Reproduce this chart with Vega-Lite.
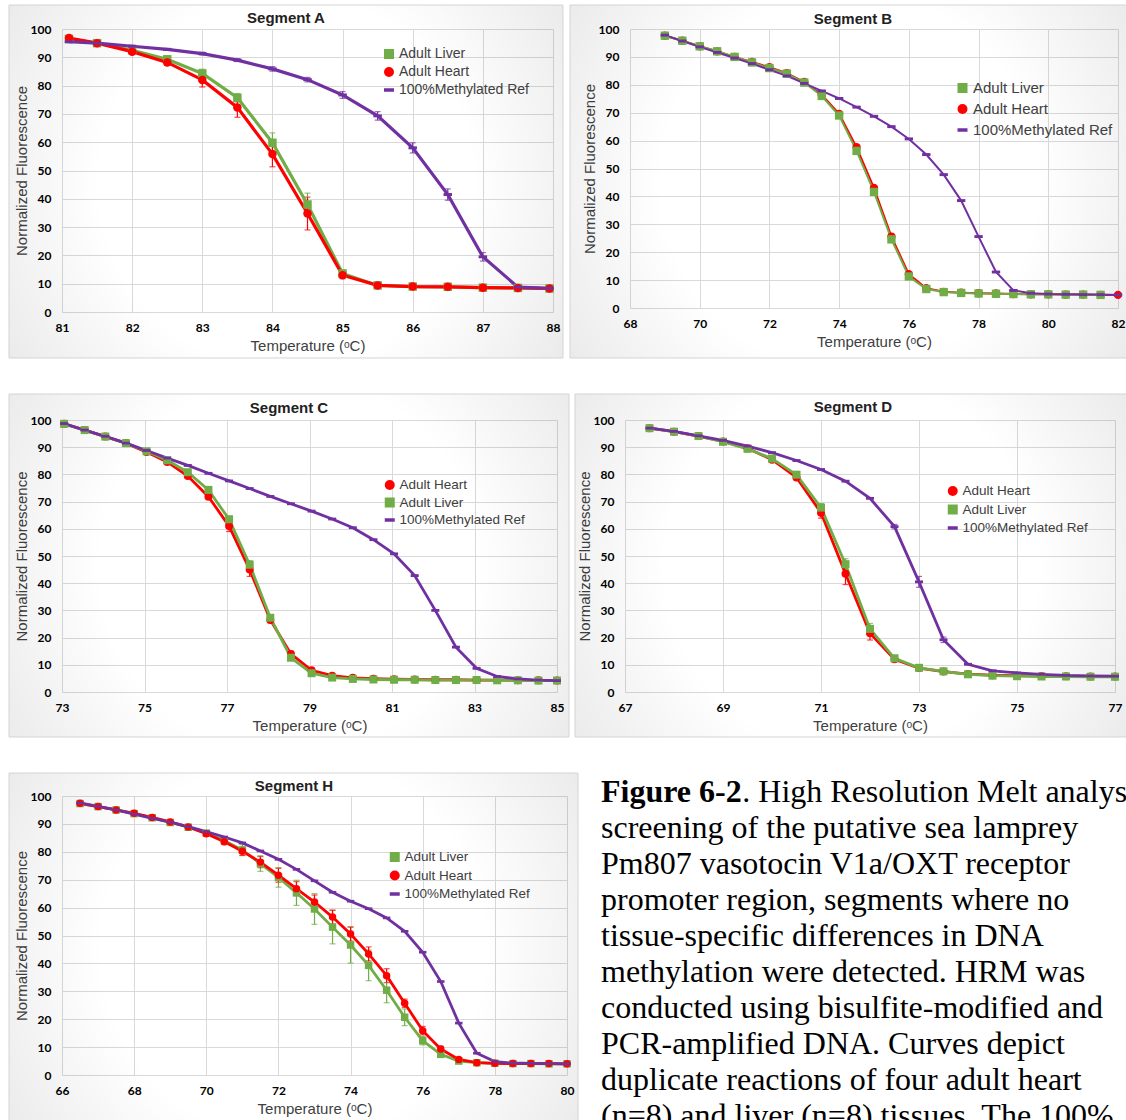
{
"$schema": "https://vega.github.io/schema/vega-lite/v6.json",
"background": "white",
"padding": {"left": 8, "top": 4, "right": 0, "bottom": 0},
"spacing": 34,
"resolve": {"scale": {"color": "independent", "shape": "independent"}, "legend": {"color": "independent", "shape": "independent"}},
"config": {
  "view": {"stroke": null},
  "axis": {"domain": false, "ticks": false, "grid": true, "gridColor": "#d9d9d9", "gridWidth": 1, "labelFont": "Lato", "labelFontSize": 12, "labelFontWeight": "bold", "labelColor": "#000000", "labelFlush": false, "labelOverlap": false, "titleFont": "Liberation Sans", "titleFontSize": 15, "titleFontWeight": "normal", "titleColor": "#404040"},
  "axisX": {"labelPadding": 10, "titlePadding": 5},
  "axisY": {"labelPadding": 11, "titlePadding": 1},
  "legend": {"labelFont": "Liberation Sans", "labelColor": "#404040", "labelOffset": 3, "padding": 0, "symbolStrokeWidth": 0, "symbolOpacity": 1, "title": null},
  "title": {"font": "Liberation Sans", "fontSize": 15, "fontWeight": "bold", "color": "#222222", "anchor": "middle"}
},
"datasets": {
  "A": [
    {"g":"L","t":81.1,"v":96.5,"e":0.5},{"g":"L","t":81.5,"v":95.0,"e":0.5},{"g":"L","t":82,"v":92.5,"e":0.7},{"g":"L","t":82.5,"v":89.3,"e":1},{"g":"L","t":83,"v":84.3,"e":1.5},{"g":"L","t":83.5,"v":75.7,"e":1.5},{"g":"L","t":84,"v":59.8,"e":3.5},{"g":"L","t":84.5,"v":38.0,"e":4},{"g":"L","t":85,"v":13.6,"e":1.2},{"g":"L","t":85.5,"v":9.4,"e":0.5},{"g":"L","t":86,"v":9.0,"e":0.4},{"g":"L","t":86.5,"v":8.9,"e":0.4},{"g":"L","t":87,"v":8.6,"e":0.3},{"g":"L","t":87.5,"v":8.5,"e":0.3},{"g":"L","t":87.95,"v":8.3,"e":0.3},
    {"g":"H","t":81.1,"v":96.8,"e":0.5},{"g":"H","t":81.5,"v":95.0,"e":0.5},{"g":"H","t":82,"v":92.0,"e":0.8},{"g":"H","t":82.5,"v":88.2,"e":1},{"g":"H","t":83,"v":82.0,"e":2.5},{"g":"H","t":83.5,"v":72.3,"e":3.5},{"g":"H","t":84,"v":55.8,"e":4.5},{"g":"H","t":84.5,"v":34.8,"e":5.8},{"g":"H","t":85,"v":13.0,"e":1.2},{"g":"H","t":85.5,"v":9.4,"e":0.7},{"g":"H","t":86,"v":9.0,"e":0.5},{"g":"H","t":86.5,"v":8.9,"e":0.5},{"g":"H","t":87,"v":8.6,"e":0.3},{"g":"H","t":87.5,"v":8.5,"e":0.3},{"g":"H","t":87.95,"v":8.3,"e":0.3},
    {"g":"R","t":81.1,"v":95.5,"e":0.3},{"g":"R","t":81.5,"v":95.0,"e":0.3},{"g":"R","t":82,"v":93.9,"e":0.3},{"g":"R","t":82.5,"v":92.8,"e":0.3},{"g":"R","t":83,"v":91.3,"e":0.5},{"g":"R","t":83.5,"v":89.0,"e":0.5},{"g":"R","t":84,"v":85.9,"e":0.8},{"g":"R","t":84.5,"v":82.1,"e":0.8},{"g":"R","t":85,"v":76.7,"e":1.2},{"g":"R","t":85.5,"v":69.3,"e":1.5},{"g":"R","t":86,"v":58.0,"e":1.8},{"g":"R","t":86.5,"v":41.5,"e":2},{"g":"R","t":87,"v":19.5,"e":1.5},{"g":"R","t":87.5,"v":8.8,"e":0.3},{"g":"R","t":87.95,"v":8.4,"e":0.3}
  ],
  "B": [
    {"g":"H","t":69,"v":97.6},{"g":"H","t":69.5,"v":95.8},{"g":"H","t":70,"v":93.8},{"g":"H","t":70.5,"v":92.0},{"g":"H","t":71,"v":90.0},{"g":"H","t":71.5,"v":88.2},{"g":"H","t":72,"v":86.3},{"g":"H","t":72.5,"v":84.2},{"g":"H","t":73,"v":81.0},{"g":"H","t":73.5,"v":76.4},{"g":"H","t":74,"v":69.6},{"g":"H","t":74.5,"v":57.6},{"g":"H","t":75,"v":43.0},{"g":"H","t":75.5,"v":25.6},{"g":"H","t":76,"v":12.1},{"g":"H","t":76.5,"v":7.1},{"g":"H","t":77,"v":5.8},{"g":"H","t":77.5,"v":5.5},{"g":"H","t":78,"v":5.3},{"g":"H","t":78.5,"v":5.2},{"g":"H","t":79,"v":5.0},{"g":"H","t":79.5,"v":4.9},{"g":"H","t":80,"v":4.9},{"g":"H","t":80.5,"v":4.8},{"g":"H","t":81,"v":4.8},{"g":"H","t":81.5,"v":4.7},
    {"g":"L","t":69,"v":97.6},{"g":"L","t":69.5,"v":95.8},{"g":"L","t":70,"v":93.8},{"g":"L","t":70.5,"v":92.0},{"g":"L","t":71,"v":90.0},{"g":"L","t":71.5,"v":88.0},{"g":"L","t":72,"v":86.0},{"g":"L","t":72.5,"v":84.0},{"g":"L","t":73,"v":80.8},{"g":"L","t":73.5,"v":76.0},{"g":"L","t":74,"v":69.0},{"g":"L","t":74.5,"v":56.3},{"g":"L","t":75,"v":41.6},{"g":"L","t":75.5,"v":24.6},{"g":"L","t":76,"v":11.3},{"g":"L","t":76.5,"v":6.8},{"g":"L","t":77,"v":5.7},{"g":"L","t":77.5,"v":5.4},{"g":"L","t":78,"v":5.2},{"g":"L","t":78.5,"v":5.1},{"g":"L","t":79,"v":5.0},{"g":"L","t":79.5,"v":4.9},{"g":"L","t":80,"v":4.9},{"g":"L","t":80.5,"v":4.8},{"g":"L","t":81,"v":4.8},{"g":"L","t":81.5,"v":4.7},
    {"g":"H","t":82,"v":4.7},
    {"g":"R","t":69,"v":97.8},{"g":"R","t":69.5,"v":95.7},{"g":"R","t":70,"v":93.6},{"g":"R","t":70.5,"v":91.6},{"g":"R","t":71,"v":89.6},{"g":"R","t":71.5,"v":87.6},{"g":"R","t":72,"v":85.4},{"g":"R","t":72.5,"v":83.2},{"g":"R","t":73,"v":80.5},{"g":"R","t":73.5,"v":77.8},{"g":"R","t":74,"v":75.1},{"g":"R","t":74.5,"v":72.0},{"g":"R","t":75,"v":68.7},{"g":"R","t":75.5,"v":65.0},{"g":"R","t":76,"v":60.6},{"g":"R","t":76.5,"v":55.0},{"g":"R","t":77,"v":47.8},{"g":"R","t":77.5,"v":38.5},{"g":"R","t":78,"v":25.6},{"g":"R","t":78.5,"v":12.9},{"g":"R","t":79,"v":6.3},{"g":"R","t":79.5,"v":5.3},{"g":"R","t":80,"v":5.0},{"g":"R","t":80.5,"v":4.9},{"g":"R","t":81,"v":4.8},{"g":"R","t":81.5,"v":4.8},{"g":"R","t":82,"v":4.7}
  ],
  "C": [
    {"g":"H","t":73.05,"v":98.6},{"g":"H","t":73.55,"v":96.3},{"g":"H","t":74.05,"v":93.9},{"g":"H","t":74.55,"v":91.5},{"g":"H","t":75.05,"v":88.2},{"g":"H","t":75.55,"v":84.6},{"g":"H","t":76.05,"v":79.4},{"g":"H","t":76.55,"v":71.8},{"g":"H","t":77.05,"v":61.0,"e":2.0},{"g":"H","t":77.55,"v":45.0,"e":2.5},{"g":"H","t":78.05,"v":26.5,"e":1.0},{"g":"H","t":78.55,"v":14.0,"e":1.0},{"g":"H","t":79.05,"v":8.0},{"g":"H","t":79.55,"v":6.0},{"g":"H","t":80.05,"v":5.2},{"g":"H","t":80.55,"v":4.9},{"g":"H","t":81.05,"v":4.7},{"g":"H","t":81.55,"v":4.6},{"g":"H","t":82.05,"v":4.5},{"g":"H","t":82.55,"v":4.5},{"g":"H","t":83.05,"v":4.4},{"g":"H","t":83.55,"v":4.4},{"g":"H","t":84.05,"v":4.3},{"g":"H","t":84.55,"v":4.3},{"g":"H","t":85,"v":4.2},
    {"g":"L","t":73.05,"v":98.6},{"g":"L","t":73.55,"v":96.3},{"g":"L","t":74.05,"v":93.9},{"g":"L","t":74.55,"v":91.5},{"g":"L","t":75.05,"v":88.5},{"g":"L","t":75.55,"v":85.2},{"g":"L","t":76.05,"v":80.8},{"g":"L","t":76.55,"v":74.3,"e":1.0},{"g":"L","t":77.05,"v":63.5,"e":1.2},{"g":"L","t":77.55,"v":46.8,"e":1.5},{"g":"L","t":78.05,"v":27.3},{"g":"L","t":78.55,"v":12.6},{"g":"L","t":79.05,"v":6.9},{"g":"L","t":79.55,"v":5.3},{"g":"L","t":80.05,"v":4.8},{"g":"L","t":80.55,"v":4.6},{"g":"L","t":81.05,"v":4.5},{"g":"L","t":81.55,"v":4.5},{"g":"L","t":82.05,"v":4.4},{"g":"L","t":82.55,"v":4.4},{"g":"L","t":83.05,"v":4.4},{"g":"L","t":83.55,"v":4.3},{"g":"L","t":84.05,"v":4.3},{"g":"L","t":84.55,"v":4.2},{"g":"L","t":85,"v":4.2},
    {"g":"R","t":73.05,"v":98.7},{"g":"R","t":73.55,"v":96.3},{"g":"R","t":74.05,"v":94.0},{"g":"R","t":74.55,"v":91.5},{"g":"R","t":75.05,"v":88.8},{"g":"R","t":75.55,"v":86.0},{"g":"R","t":76.05,"v":83.3},{"g":"R","t":76.55,"v":80.4},{"g":"R","t":77.05,"v":77.6},{"g":"R","t":77.55,"v":74.8},{"g":"R","t":78.05,"v":71.9},{"g":"R","t":78.55,"v":69.2},{"g":"R","t":79.05,"v":66.5},{"g":"R","t":79.55,"v":63.6},{"g":"R","t":80.05,"v":60.4},{"g":"R","t":80.55,"v":56.0},{"g":"R","t":81.05,"v":50.8},{"g":"R","t":81.55,"v":42.8},{"g":"R","t":82.05,"v":30.0},{"g":"R","t":82.55,"v":16.5},{"g":"R","t":83.05,"v":8.7},{"g":"R","t":83.55,"v":5.7},{"g":"R","t":84.05,"v":4.8},{"g":"R","t":84.55,"v":4.4},{"g":"R","t":85,"v":4.2}
  ],
  "D": [
    {"g":"H","t":67.5,"v":97.0},{"g":"H","t":68,"v":95.7},{"g":"H","t":68.5,"v":94.1},{"g":"H","t":69,"v":92.1},{"g":"H","t":69.5,"v":89.6},{"g":"H","t":70,"v":85.4},{"g":"H","t":70.5,"v":78.9,"e":0.8},{"g":"H","t":71,"v":65.9,"e":2.0},{"g":"H","t":71.5,"v":43.5,"e":4.0},{"g":"H","t":72,"v":21.6,"e":2.5},{"g":"H","t":72.5,"v":12.0,"e":0.8},{"g":"H","t":73,"v":8.8},{"g":"H","t":73.5,"v":7.5},{"g":"H","t":74,"v":6.6},{"g":"H","t":74.5,"v":6.2},{"g":"H","t":75,"v":6.0},{"g":"H","t":75.5,"v":5.9},{"g":"H","t":76,"v":5.8},{"g":"H","t":76.5,"v":5.7},{"g":"H","t":77,"v":5.7},
    {"g":"L","t":67.5,"v":97.0},{"g":"L","t":68,"v":95.7},{"g":"L","t":68.5,"v":94.1},{"g":"L","t":69,"v":92.0},{"g":"L","t":69.5,"v":89.4},{"g":"L","t":70,"v":85.8},{"g":"L","t":70.5,"v":79.9,"e":0.8},{"g":"L","t":71,"v":67.8,"e":1.5},{"g":"L","t":71.5,"v":47.0,"e":2.0},{"g":"L","t":72,"v":23.2,"e":2.0},{"g":"L","t":72.5,"v":12.4,"e":0.8},{"g":"L","t":73,"v":8.9},{"g":"L","t":73.5,"v":7.6},{"g":"L","t":74,"v":6.5},{"g":"L","t":74.5,"v":6.0},{"g":"L","t":75,"v":5.8},{"g":"L","t":75.5,"v":5.7},{"g":"L","t":76,"v":5.7},{"g":"L","t":76.5,"v":5.6},{"g":"L","t":77,"v":5.6},
    {"g":"R","t":67.5,"v":97.0},{"g":"R","t":68,"v":95.8},{"g":"R","t":68.5,"v":94.2},{"g":"R","t":69,"v":92.5},{"g":"R","t":69.5,"v":90.4},{"g":"R","t":70,"v":88.0},{"g":"R","t":70.5,"v":85.1},{"g":"R","t":71,"v":81.8},{"g":"R","t":71.5,"v":77.5},{"g":"R","t":72,"v":71.2},{"g":"R","t":72.5,"v":60.8,"e":0.8},{"g":"R","t":73,"v":40.5,"e":2.0},{"g":"R","t":73.5,"v":19.2,"e":1.0},{"g":"R","t":74,"v":10.2},{"g":"R","t":74.5,"v":7.8},{"g":"R","t":75,"v":7.0},{"g":"R","t":75.5,"v":6.5},{"g":"R","t":76,"v":6.1},{"g":"R","t":76.5,"v":5.9},{"g":"R","t":77,"v":5.8}
  ],
  "Hs": [
    {"g":"L","t":66.5,"v":97.3,"e":0.3},{"g":"L","t":67,"v":96.2,"e":0.3},{"g":"L","t":67.5,"v":95.0,"e":0.3},{"g":"L","t":68,"v":93.7,"e":0.3},{"g":"L","t":68.5,"v":92.2,"e":0.3},{"g":"L","t":69,"v":90.5,"e":0.3},{"g":"L","t":69.5,"v":88.8,"e":0.5},{"g":"L","t":70,"v":86.7,"e":0.5},{"g":"L","t":70.5,"v":84.0,"e":1.0},{"g":"L","t":71,"v":80.6,"e":2.0},{"g":"L","t":71.5,"v":75.8,"e":2.8},{"g":"L","t":72,"v":70.8,"e":3.5},{"g":"L","t":72.5,"v":65.3,"e":4.5},{"g":"L","t":73,"v":59.5,"e":5.5},{"g":"L","t":73.5,"v":53.0,"e":6.0},{"g":"L","t":74,"v":46.6,"e":6.5},{"g":"L","t":74.5,"v":39.3,"e":5.5},{"g":"L","t":75,"v":30.4,"e":4.5},{"g":"L","t":75.5,"v":20.7,"e":3.0},{"g":"L","t":76,"v":12.3,"e":1.5},{"g":"L","t":76.5,"v":7.4,"e":1.0},{"g":"L","t":77,"v":5.0,"e":0.5},{"g":"L","t":77.5,"v":4.4},{"g":"L","t":78,"v":4.2},{"g":"L","t":78.5,"v":4.1},{"g":"L","t":79,"v":4.1},{"g":"L","t":79.5,"v":4.0},{"g":"L","t":80,"v":4.0},
    {"g":"H","t":66.5,"v":97.4,"e":0.3},{"g":"H","t":67,"v":96.2,"e":0.3},{"g":"H","t":67.5,"v":95.0,"e":0.3},{"g":"H","t":68,"v":93.8,"e":0.3},{"g":"H","t":68.5,"v":92.3,"e":0.3},{"g":"H","t":69,"v":90.7,"e":0.3},{"g":"H","t":69.5,"v":88.9,"e":0.5},{"g":"H","t":70,"v":86.5,"e":0.5},{"g":"H","t":70.5,"v":83.6,"e":1.0},{"g":"H","t":71,"v":80.2,"e":1.5},{"g":"H","t":71.5,"v":76.3,"e":2.0},{"g":"H","t":72,"v":71.6,"e":2.5},{"g":"H","t":72.5,"v":66.8,"e":2.5},{"g":"H","t":73,"v":62.0,"e":2.5},{"g":"H","t":73.5,"v":56.6,"e":2.5},{"g":"H","t":74,"v":50.5,"e":2.5},{"g":"H","t":74.5,"v":43.4,"e":2.5},{"g":"H","t":75,"v":35.6,"e":2.5},{"g":"H","t":75.5,"v":25.7,"e":1.5},{"g":"H","t":76,"v":15.9,"e":1.5},{"g":"H","t":76.5,"v":9.3,"e":1.0},{"g":"H","t":77,"v":5.6,"e":0.5},{"g":"H","t":77.5,"v":4.4},{"g":"H","t":78,"v":4.2},{"g":"H","t":78.5,"v":4.1},{"g":"H","t":79,"v":4.1},{"g":"H","t":79.5,"v":4.1},{"g":"H","t":80,"v":4.0},
    {"g":"R","t":66.5,"v":97.5},{"g":"R","t":67,"v":96.3},{"g":"R","t":67.5,"v":95.0},{"g":"R","t":68,"v":93.5},{"g":"R","t":68.5,"v":92.0},{"g":"R","t":69,"v":90.6},{"g":"R","t":69.5,"v":89.0},{"g":"R","t":70,"v":87.2},{"g":"R","t":70.5,"v":85.3},{"g":"R","t":71,"v":83.2},{"g":"R","t":71.5,"v":80.3},{"g":"R","t":72,"v":77.3},{"g":"R","t":72.5,"v":73.7},{"g":"R","t":73,"v":69.6},{"g":"R","t":73.5,"v":65.5},{"g":"R","t":74,"v":62.3},{"g":"R","t":74.5,"v":59.6},{"g":"R","t":75,"v":56.3},{"g":"R","t":75.5,"v":51.5},{"g":"R","t":76,"v":44.0},{"g":"R","t":76.5,"v":33.5},{"g":"R","t":77,"v":18.6},{"g":"R","t":77.5,"v":7.8},{"g":"R","t":78,"v":4.8},{"g":"R","t":78.5,"v":4.3},{"g":"R","t":79,"v":4.2},{"g":"R","t":79.5,"v":4.1},{"g":"R","t":80,"v":4.0}
  ],
  "cap": [
    {"i":0,"a":"Figure 6-2","b":". High Resolution Melt analysis"},
    {"i":1,"b":"screening of the putative sea lamprey"},
    {"i":2,"b":"Pm807 vasotocin V1a/OXT receptor"},
    {"i":3,"b":"promoter region, segments where no"},
    {"i":4,"b":"tissue-specific differences in DNA"},
    {"i":5,"b":"methylation were detected. HRM was"},
    {"i":6,"b":"conducted using bisulfite-modified and"},
    {"i":7,"b":"PCR-amplified DNA. Curves depict"},
    {"i":8,"b":"duplicate reactions of four adult heart"},
    {"i":9,"b":"(n=8) and liver (n=8) tissues. The 100%"}
  ]
},
"vconcat": [
  {"hconcat": [
    {"width": 491, "height": 283, "data": {"name": "A"},
     "title": {"text": "Segment A", "dx": -21.5, "offset": -21},
     "layer": [
       {"data": {"values": [{}]},
        "mark": {"type": "rect", "stroke": "#d4d4d4", "strokeWidth": 1, "fill": {"gradient": "radial", "x1": 0.5, "y1": 0.5, "r1": 0, "x2": 0.5, "y2": 0.5, "r2": 0.75, "stops": [{"offset": 0, "color": "rgba(0,0,0,0)"}, {"offset": 0.45, "color": "rgba(0,0,0,0)"}, {"offset": 1, "color": "rgba(0,0,0,0.13)"}]}},
        "encoding": {
          "x": {"datum": 80.244, "type": "quantitative", "scale": {"domain": [81, 88], "nice": false, "zero": false}, "axis": {"values": [81,82,83,84,85,86,87,88], "format": "d", "title": "Temperature (ᵒC)"}},
          "x2": {"datum": 88.143},
          "y": {"datum": -16.25, "type": "quantitative", "scale": {"domain": [0, 100], "nice": false}, "axis": {"values": [0,10,20,30,40,50,60,70,80,90,100], "format": "d", "title": "Normalized Fluorescence"}},
          "y2": {"datum": 108.48}}},
       {"transform": [{"filter": "datum.e > 0"}], "mark": {"type": "errorbar", "ticks": {"size": 6}, "thickness": 1.2},
        "encoding": {"x": {"field": "t", "type": "quantitative", "axis": {"values": [81,82,83,84,85,86,87,88], "format": "d", "title": "Temperature (ᵒC)"}}, "y": {"field": "v", "type": "quantitative", "axis": {"values": [0,10,20,30,40,50,60,70,80,90,100], "format": "d", "title": "Normalized Fluorescence"}}, "yError": {"field": "e"}, "color": {"field": "g", "type": "nominal"}}},
       {"mark": {"type": "line", "strokeWidth": 3.2},
        "encoding": {"x": {"field": "t", "type": "quantitative", "axis": {"values": [81,82,83,84,85,86,87,88], "format": "d", "title": "Temperature (ᵒC)"}}, "y": {"field": "v", "type": "quantitative", "axis": {"values": [0,10,20,30,40,50,60,70,80,90,100], "format": "d", "title": "Normalized Fluorescence"}}, "color": {"field": "g", "type": "nominal"}}},
       {"mark": {"type": "point", "filled": true, "opacity": 1, "size": 72},
        "encoding": {"x": {"field": "t", "type": "quantitative", "axis": {"values": [81,82,83,84,85,86,87,88], "format": "d", "title": "Temperature (ᵒC)"}}, "y": {"field": "v", "type": "quantitative", "axis": {"values": [0,10,20,30,40,50,60,70,80,90,100], "format": "d", "title": "Normalized Fluorescence"}},
          "color": {"field": "g", "type": "nominal", "scale": {"domain": ["L","H","R"], "range": ["#70AD47","#FF0000","#7030A0"]},
            "legend": {"orient": "none", "legendX": 320, "legendY": 18, "labelFontSize": 14, "rowPadding": 4, "labelExpr": "datum.label == 'L' ? 'Adult Liver' : datum.label == 'H' ? 'Adult Heart' : '100%Methylated Ref'"}},
          "shape": {"field": "g", "type": "nominal", "scale": {"domain": ["L","H","R"], "range": ["square","circle","M-1,-0.35H1V0.35H-1Z"]}}}}
     ]},
    {"width": 488, "height": 279, "data": {"name": "B"},
     "title": {"text": "Segment B", "dx": -21, "offset": -22},
     "layer": [
       {"data": {"values": [{}]},
        "mark": {"type": "rect", "stroke": "#d4d4d4", "strokeWidth": 1, "fill": {"gradient": "radial", "x1": 0.5, "y1": 0.5, "r1": 0, "x2": 0.5, "y2": 0.5, "r2": 0.75, "stops": [{"offset": 0, "color": "rgba(0,0,0,0)"}, {"offset": 0.45, "color": "rgba(0,0,0,0)"}, {"offset": 1, "color": "rgba(0,0,0,0.13)"}]}},
        "encoding": {
          "x": {"datum": 66.279, "type": "quantitative", "scale": {"domain": [68, 82], "nice": false, "zero": false}, "axis": {"values": [68,70,72,74,76,78,80,82], "format": "d", "title": "Temperature (ᵒC)"}},
          "x2": {"datum": 82.3},
          "y": {"datum": -17.92, "type": "quantitative", "scale": {"domain": [0, 100], "nice": false}, "axis": {"values": [0,10,20,30,40,50,60,70,80,90,100], "format": "d", "title": "Normalized Fluorescence"}},
          "y2": {"datum": 108.6}}},
       {"mark": {"type": "line", "strokeWidth": 2},
        "encoding": {"x": {"field": "t", "type": "quantitative", "axis": {"values": [68,70,72,74,76,78,80,82], "format": "d", "title": "Temperature (ᵒC)"}}, "y": {"field": "v", "type": "quantitative", "axis": {"values": [0,10,20,30,40,50,60,70,80,90,100], "format": "d", "title": "Normalized Fluorescence"}}, "color": {"field": "g", "type": "nominal"}}},
       {"mark": {"type": "point", "filled": true, "opacity": 1, "size": 70},
        "encoding": {"x": {"field": "t", "type": "quantitative", "axis": {"values": [68,70,72,74,76,78,80,82], "format": "d", "title": "Temperature (ᵒC)"}}, "y": {"field": "v", "type": "quantitative", "axis": {"values": [0,10,20,30,40,50,60,70,80,90,100], "format": "d", "title": "Normalized Fluorescence"}},
          "color": {"field": "g", "type": "nominal", "scale": {"domain": ["L","H","R"], "range": ["#70AD47","#FF0000","#7030A0"]},
            "legend": {"orient": "none", "legendX": 325, "legendY": 51.5, "labelFontSize": 15, "rowPadding": 5, "labelExpr": "datum.label == 'L' ? 'Adult Liver' : datum.label == 'H' ? 'Adult Heart' : '100%Methylated Ref'"}},
          "shape": {"field": "g", "type": "nominal", "scale": {"domain": ["L","H","R"], "range": ["square","circle","M-1,-0.35H1V0.35H-1Z"]}}}}
     ]}
  ], "spacing": 5,
  "resolve": {"scale": {"color": "independent", "shape": "independent"}, "legend": {"color": "independent", "shape": "independent"}}},
  {"hconcat": [
    {"width": 495, "height": 272, "data": {"name": "C"},
     "title": {"text": "Segment C", "dx": -20.5, "offset": -23},
     "layer": [
       {"data": {"values": [{}]},
        "mark": {"type": "rect", "stroke": "#d4d4d4", "strokeWidth": 1, "fill": {"gradient": "radial", "x1": 0.5, "y1": 0.5, "r1": 0, "x2": 0.5, "y2": 0.5, "r2": 0.75, "stops": [{"offset": 0, "color": "rgba(0,0,0,0)"}, {"offset": 0.45, "color": "rgba(0,0,0,0)"}, {"offset": 1, "color": "rgba(0,0,0,0.13)"}]}},
        "encoding": {
          "x": {"datum": 71.715, "type": "quantitative", "scale": {"domain": [73, 85], "nice": false, "zero": false}, "axis": {"values": [73,75,77,79,81,83,85], "format": "d", "title": "Temperature (ᵒC)"}},
          "x2": {"datum": 85.291},
          "y": {"datum": -16.54, "type": "quantitative", "scale": {"domain": [0, 100], "nice": false}, "axis": {"values": [0,10,20,30,40,50,60,70,80,90,100], "format": "d", "title": "Normalized Fluorescence"}},
          "y2": {"datum": 109.56}}},
       {"transform": [{"filter": "datum.e > 0"}], "mark": {"type": "errorbar", "ticks": {"size": 6}, "thickness": 1.2},
        "encoding": {"x": {"field": "t", "type": "quantitative", "axis": {"values": [73,75,77,79,81,83,85], "format": "d", "title": "Temperature (ᵒC)"}}, "y": {"field": "v", "type": "quantitative", "axis": {"values": [0,10,20,30,40,50,60,70,80,90,100], "format": "d", "title": "Normalized Fluorescence"}}, "yError": {"field": "e"}, "color": {"field": "g", "type": "nominal"}}},
       {"mark": {"type": "line", "strokeWidth": 2.8},
        "encoding": {"x": {"field": "t", "type": "quantitative", "axis": {"values": [73,75,77,79,81,83,85], "format": "d", "title": "Temperature (ᵒC)"}}, "y": {"field": "v", "type": "quantitative", "axis": {"values": [0,10,20,30,40,50,60,70,80,90,100], "format": "d", "title": "Normalized Fluorescence"}}, "color": {"field": "g", "type": "nominal"}}},
       {"mark": {"type": "point", "filled": true, "opacity": 1, "size": 64},
        "encoding": {"x": {"field": "t", "type": "quantitative", "axis": {"values": [73,75,77,79,81,83,85], "format": "d", "title": "Temperature (ᵒC)"}}, "y": {"field": "v", "type": "quantitative", "axis": {"values": [0,10,20,30,40,50,60,70,80,90,100], "format": "d", "title": "Normalized Fluorescence"}},
          "color": {"field": "g", "type": "nominal", "scale": {"domain": ["H","L","R"], "range": ["#FF0000","#70AD47","#7030A0"]},
            "legend": {"orient": "none", "legendX": 321, "legendY": 58.25, "labelFontSize": 13.5, "rowPadding": 2.5, "labelExpr": "datum.label == 'L' ? 'Adult Liver' : datum.label == 'H' ? 'Adult Heart' : '100%Methylated Ref'"}},
          "shape": {"field": "g", "type": "nominal", "scale": {"domain": ["H","L","R"], "range": ["circle","square","M-1,-0.35H1V0.35H-1Z"]}}}}
     ]},
    {"width": 490, "height": 272, "data": {"name": "D"},
     "title": {"text": "Segment D", "dx": -17, "offset": -22},
     "layer": [
       {"data": {"values": [{}]},
        "mark": {"type": "rect", "stroke": "#d4d4d4", "strokeWidth": 1, "fill": {"gradient": "radial", "x1": 0.5, "y1": 0.5, "r1": 0, "x2": 0.5, "y2": 0.5, "r2": 0.75, "stops": [{"offset": 0, "color": "rgba(0,0,0,0)"}, {"offset": 0.45, "color": "rgba(0,0,0,0)"}, {"offset": 1, "color": "rgba(0,0,0,0.13)"}]}},
        "encoding": {
          "x": {"datum": 65.98, "type": "quantitative", "scale": {"domain": [67, 77], "nice": false, "zero": false}, "axis": {"values": [67,69,71,73,75,77], "format": "d", "title": "Temperature (ᵒC)"}},
          "x2": {"datum": 77.25},
          "y": {"datum": -16.54, "type": "quantitative", "scale": {"domain": [0, 100], "nice": false}, "axis": {"values": [0,10,20,30,40,50,60,70,80,90,100], "format": "d", "title": "Normalized Fluorescence"}},
          "y2": {"datum": 109.56}}},
       {"transform": [{"filter": "datum.e > 0"}], "mark": {"type": "errorbar", "ticks": {"size": 6}, "thickness": 1.2},
        "encoding": {"x": {"field": "t", "type": "quantitative", "axis": {"values": [67,69,71,73,75,77], "format": "d", "title": "Temperature (ᵒC)"}}, "y": {"field": "v", "type": "quantitative", "axis": {"values": [0,10,20,30,40,50,60,70,80,90,100], "format": "d", "title": "Normalized Fluorescence"}}, "yError": {"field": "e"}, "color": {"field": "g", "type": "nominal"}}},
       {"mark": {"type": "line", "strokeWidth": 2.8},
        "encoding": {"x": {"field": "t", "type": "quantitative", "axis": {"values": [67,69,71,73,75,77], "format": "d", "title": "Temperature (ᵒC)"}}, "y": {"field": "v", "type": "quantitative", "axis": {"values": [0,10,20,30,40,50,60,70,80,90,100], "format": "d", "title": "Normalized Fluorescence"}}, "color": {"field": "g", "type": "nominal"}}},
       {"mark": {"type": "point", "filled": true, "opacity": 1, "size": 64},
        "encoding": {"x": {"field": "t", "type": "quantitative", "axis": {"values": [67,69,71,73,75,77], "format": "d", "title": "Temperature (ᵒC)"}}, "y": {"field": "v", "type": "quantitative", "axis": {"values": [0,10,20,30,40,50,60,70,80,90,100], "format": "d", "title": "Normalized Fluorescence"}},
          "color": {"field": "g", "type": "nominal", "scale": {"domain": ["H","L","R"], "range": ["#FF0000","#70AD47","#7030A0"]},
            "legend": {"orient": "none", "legendX": 321, "legendY": 64.25, "labelFontSize": 13.5, "rowPadding": 3.5, "labelExpr": "datum.label == 'L' ? 'Adult Liver' : datum.label == 'H' ? 'Adult Heart' : '100%Methylated Ref'"}},
          "shape": {"field": "g", "type": "nominal", "scale": {"domain": ["H","L","R"], "range": ["circle","square","M-1,-0.35H1V0.35H-1Z"]}}}}
     ]}
  ], "spacing": 4,
  "resolve": {"scale": {"color": "independent", "shape": "independent"}, "legend": {"color": "independent", "shape": "independent"}}},
  {"hconcat": [
    {"width": 505, "height": 279, "data": {"name": "Hs"},
     "title": {"text": "Segment H", "dx": -20.5, "offset": -21},
     "layer": [
       {"data": {"values": [{}]},
        "mark": {"type": "rect", "stroke": "#d4d4d4", "strokeWidth": 1, "fill": {"gradient": "radial", "x1": 0.5, "y1": 0.5, "r1": 0, "x2": 0.5, "y2": 0.5, "r2": 0.75, "stops": [{"offset": 0, "color": "rgba(0,0,0,0)"}, {"offset": 0.45, "color": "rgba(0,0,0,0)"}, {"offset": 1, "color": "rgba(0,0,0,0.13)"}]}},
        "encoding": {
          "x": {"datum": 64.531, "type": "quantitative", "scale": {"domain": [66, 80], "nice": false, "zero": false}, "axis": {"values": [66,68,70,72,74,76,78,80], "format": "d", "title": "Temperature (ᵒC)"}},
          "x2": {"datum": 80.305},
          "y": {"datum": -17.2, "type": "quantitative", "scale": {"domain": [0, 100], "nice": false}, "axis": {"values": [0,10,20,30,40,50,60,70,80,90,100], "format": "d", "title": "Normalized Fluorescence"}},
          "y2": {"datum": 108.24}}},
       {"transform": [{"filter": "datum.e > 0"}], "mark": {"type": "errorbar", "ticks": {"size": 6}, "thickness": 1.2},
        "encoding": {"x": {"field": "t", "type": "quantitative", "axis": {"values": [66,68,70,72,74,76,78,80], "format": "d", "title": "Temperature (ᵒC)"}}, "y": {"field": "v", "type": "quantitative", "axis": {"values": [0,10,20,30,40,50,60,70,80,90,100], "format": "d", "title": "Normalized Fluorescence"}}, "yError": {"field": "e"}, "color": {"field": "g", "type": "nominal"}}},
       {"mark": {"type": "line", "strokeWidth": 2.8},
        "encoding": {"x": {"field": "t", "type": "quantitative", "axis": {"values": [66,68,70,72,74,76,78,80], "format": "d", "title": "Temperature (ᵒC)"}}, "y": {"field": "v", "type": "quantitative", "axis": {"values": [0,10,20,30,40,50,60,70,80,90,100], "format": "d", "title": "Normalized Fluorescence"}}, "color": {"field": "g", "type": "nominal"}}},
       {"mark": {"type": "point", "filled": true, "opacity": 1, "size": 56},
        "encoding": {"x": {"field": "t", "type": "quantitative", "axis": {"values": [66,68,70,72,74,76,78,80], "format": "d", "title": "Temperature (ᵒC)"}}, "y": {"field": "v", "type": "quantitative", "axis": {"values": [0,10,20,30,40,50,60,70,80,90,100], "format": "d", "title": "Normalized Fluorescence"}},
          "color": {"field": "g", "type": "nominal", "scale": {"domain": ["L","H","R"], "range": ["#70AD47","#FF0000","#7030A0"]},
            "legend": {"orient": "none", "legendX": 326, "legendY": 54.25, "labelFontSize": 13.5, "rowPadding": 3.5, "labelExpr": "datum.label == 'L' ? 'Adult Liver' : datum.label == 'H' ? 'Adult Heart' : '100%Methylated Ref'"}},
          "shape": {"field": "g", "type": "nominal", "scale": {"domain": ["L","H","R"], "range": ["square","circle","M-1,-0.35H1V0.35H-1Z"]}}}}
     ]},
    {"width": 524, "height": 360, "data": {"name": "cap"},
     "layer": [
       {"transform": [{"filter": "datum.i > 0"}],
        "mark": {"type": "text", "align": "left", "baseline": "middle", "font": "Liberation Serif", "fontSize": 32, "color": "#000000", "dy": -4, "limit": 524, "ellipsis": "\u200b"},
        "encoding": {"x": {"datum": 0, "type": "quantitative", "scale": {"domain": [0, 1]}, "axis": null},
          "y": {"field": "i", "type": "quantitative", "scale": {"domain": [0, 10], "reverse": true, "nice": false, "zero": false}, "axis": null},
          "text": {"field": "b"}}},
       {"transform": [{"filter": "datum.i == 0"}],
        "mark": {"type": "text", "align": "left", "baseline": "middle", "font": "Liberation Serif", "fontSize": 32, "fontWeight": "bold", "color": "#000000", "dy": -4},
        "encoding": {"x": {"datum": 0, "type": "quantitative", "axis": null},
          "y": {"field": "i", "type": "quantitative", "axis": null},
          "text": {"field": "a"}}},
       {"transform": [{"filter": "datum.i == 0"}],
        "mark": {"type": "text", "align": "left", "baseline": "middle", "font": "Liberation Serif", "fontSize": 32, "color": "#000000", "dx": 141.3, "dy": -4, "limit": 390, "ellipsis": "\u200b"},
        "encoding": {"x": {"datum": 0, "type": "quantitative", "axis": null},
          "y": {"field": "i", "type": "quantitative", "axis": null},
          "text": {"field": "b"}}}
     ]}
  ], "spacing": 22,
  "resolve": {"scale": {"color": "independent", "shape": "independent"}, "legend": {"color": "independent", "shape": "independent"}}}
]
}
